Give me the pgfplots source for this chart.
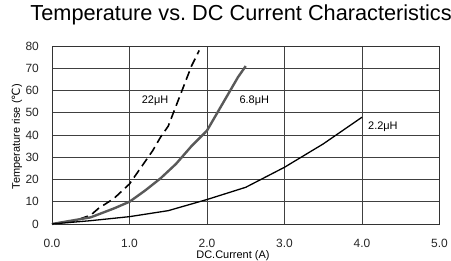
\documentclass[border=0pt]{standalone}
\usepackage{fontspec}
\setmainfont{Liberation Sans}
\newfontfamily\dejavu{DejaVu Sans}
\usepackage{pgfplots}
\pgfplotsset{compat=1.18}
\begin{document}
\begin{tikzpicture}
\path[use as bounding box] (-52bp,-37bp) rectangle (399bp,224bp);
\begin{axis}[
  scale only axis, width=387.5bp, height=178bp,
  xmin=0, xmax=5, ymin=0, ymax=80,
  xtick={0,1,2,3,4,5}, ytick={0,10,...,80},
  x tick label style={/pgf/number format/fixed, /pgf/number format/fixed zerofill, /pgf/number format/precision=1, anchor=center, inner sep=0pt, yshift=-19bp},
  /pgf/number format/assume math mode=true,
  tick label style={font=\fontsize{12}{13}\selectfont, text=black!85},
  y tick label style={anchor=east, inner sep=0pt, xshift=-13bp},
  major tick length=0pt,
  grid=major, grid style={black!75, line width=0.6pt},
  axis line style={black!80, line width=0.6pt},
  xlabel={DC.Current (A)},
  ylabel={Temperature rise ({\dejavu ℃})},
  every axis x label/.style={at={(axis description cs:0.467,0)}, anchor=center, yshift=-32bp, font=\fontsize{11}{12}\selectfont},
  every axis y label/.style={at={(axis description cs:-0.0903,0.49)}, rotate=90, anchor=center, font=\fontsize{11}{12}\selectfont},
  title={Temperature vs.\ DC Current Characteristics},
  title style={font=\fontsize{21.8}{24}\selectfont, at={(axis description cs:0.488,1)}, anchor=center, yshift=25bp},
  clip=false,
]
\addplot[black, line width=1.6pt, dash pattern=on 9pt off 5pt] coordinates {
(0,0) (0.3,1.5) (0.5,4) (0.6,7) (0.8,11.5) (1.0,18) (1.1,23) (1.2,28) (1.3,33) (1.4,39) (1.5,44) (1.6,53) (1.7,62) (1.8,71) (1.9,78)};
\addplot[black!65, line width=2.4pt] coordinates {
(0,0) (0.5,3) (0.8,7) (1.0,10) (1.2,15) (1.4,20.5) (1.6,27) (1.8,35) (2.0,42) (2.1,48) (2.2,54) (2.3,60) (2.4,66) (2.5,71)};
\addplot[black, line width=1.3pt] coordinates {
(0,0) (0.5,1.5) (1,3.3) (1.5,6) (2,11) (2.5,16.5) (3,25.5) (3.5,36) (4,48)};
\node[font=\fontsize{11}{12}\selectfont] at (axis cs:1.33,55.6) {22μH};
\node[font=\fontsize{11}{12}\selectfont] at (axis cs:2.61,55.6) {6.8μH};
\node[font=\fontsize{11}{12}\selectfont] at (axis cs:4.27,43.5) {2.2μH};
\end{axis}
\end{tikzpicture}
\end{document}
